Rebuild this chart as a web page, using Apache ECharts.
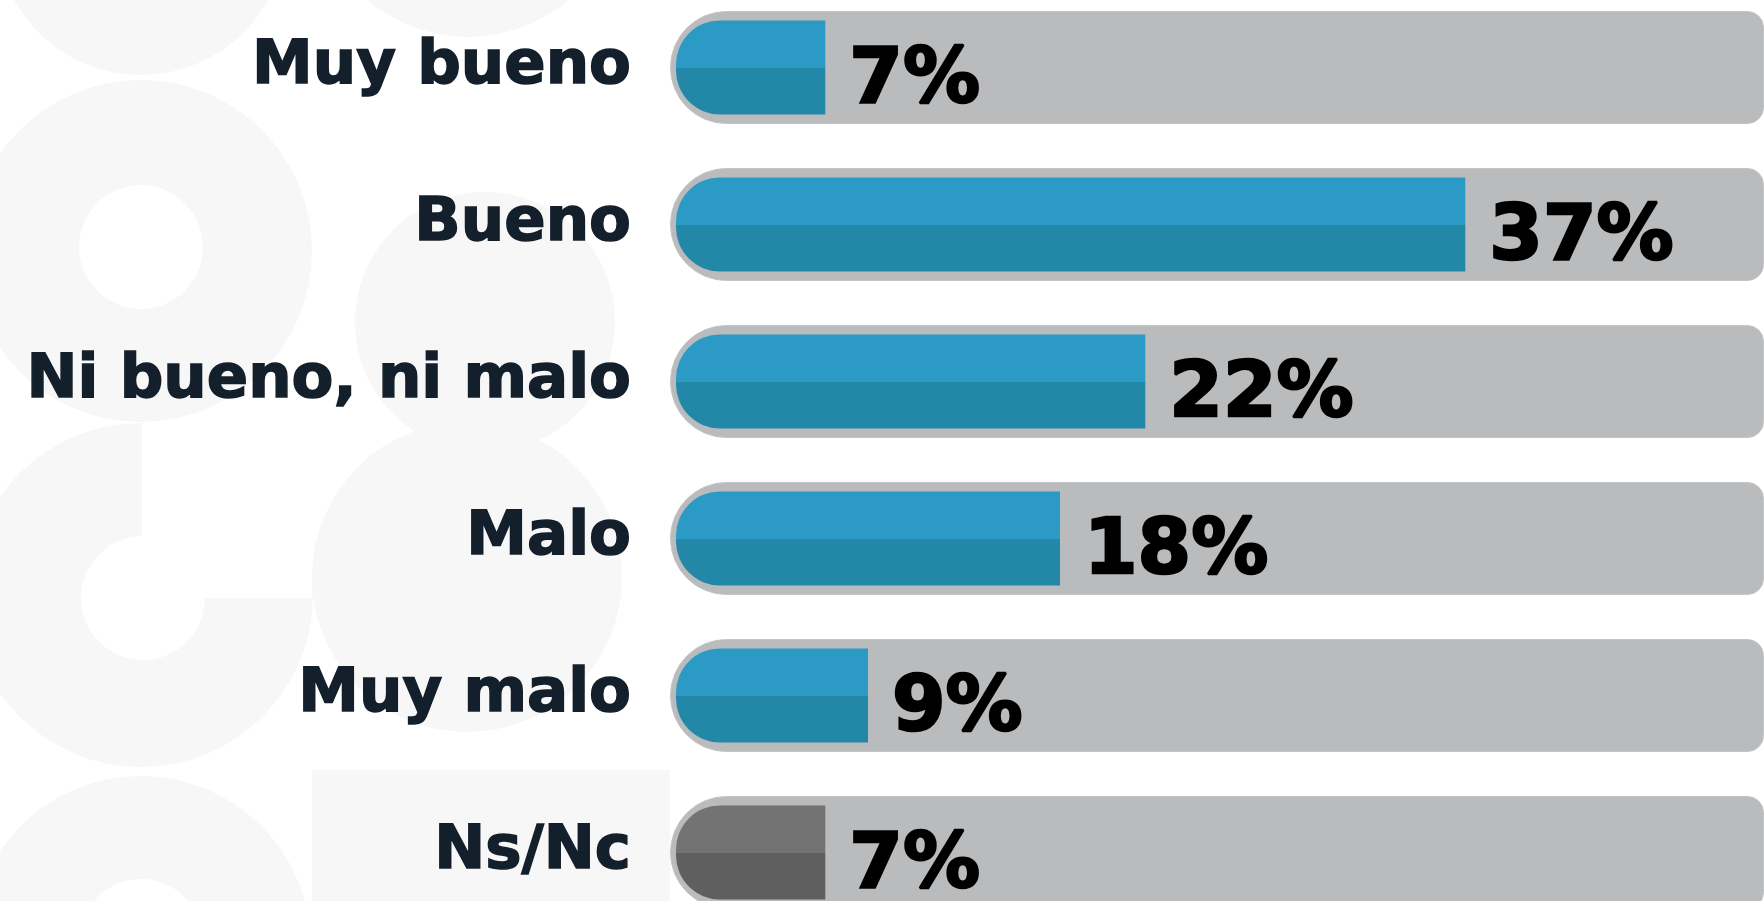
<!DOCTYPE html>
<html>
<head>
<meta charset="utf-8">
<script src="https://cdn.jsdelivr.net/npm/echarts@6/dist/echarts.min.js"></script>
<style>
  html, body { margin: 0; padding: 0; background: #ffffff; }
  #chart { width: 1764px; height: 901px; }
</style>
</head>
<body>
<div id="chart"></div>
<script>
// categorias y porcentajes
const categories = ["Muy bueno", "Bueno", "Ni bueno, ni malo", "Malo", "Muy malo", "Ns/Nc"];
const values = [7, 37, 22, 18, 9, 7];
const valueLabels = ["7%", "37%", "22%", "18%", "9%", "7%"];

const chartDom = document.getElementById("chart");
const myChart = echarts.init(chartDom);

const split = (top, bottom) =>
  new echarts.graphic.LinearGradient(0, 0, 0, 1, [
    { offset: 0, color: top },
    { offset: 0.5, color: top },
    { offset: 0.5, color: bottom },
    { offset: 1, color: bottom },
  ]);

const barData = values.map((v, i) => ({
  value: v,
  itemStyle: {
    color: categories[i] === "Ns/Nc" ? split("#737373", "#5f5f5f") : split("#2b9bc5", "#2388a7"),
  },
}));

// fondo decorativo
const bg = "#f7f7f7";
const circle = (cx, cy, r, fill) => ({ type: "circle", shape: { cx, cy, r }, style: { fill }, silent: true, z: -10 });
const rect = (x, y, width, height, fill) => ({ type: "rect", shape: { x, y, width, height }, style: { fill }, silent: true, z: -10 });

const option = {
  backgroundColor: "#ffffff",
  animation: false,
  graphic: [
    circle(141, -70, 145, bg),
    circle(468, -117, 154, bg),
    circle(141, 251, 171, bg),
    circle(485, 322, 130, bg),
    circle(141, 595, 172, bg),
    circle(467, 577, 155, bg),
    circle(141, 946, 170, bg),
    rect(312, 770, 358, 131, bg),
    circle(141, 247, 62, "#ffffff"),
    rect(142, 422, 170, 176, "#ffffff"),
    circle(143, 598, 62, "#ffffff"),
    circle(141, 941, 62, "#ffffff"),
  ],
  grid: {
    left: 670,
    right: 0,
    top: -11,
    height: 942,
    containLabel: false,
    outerBoundsMode: "none",
  },
  xAxis: [
    { type: "value", min: 0, max: 1, show: false },
    { type: "value", min: -0.28, max: 51, show: false },
  ],
  yAxis: [
    {
      type: "category",
      data: categories,
      inverse: true,
      axisLine: { show: false },
      axisTick: { show: false },
      splitLine: { show: false },
      axisLabel: {
        margin: 39,
        padding: [6, 0, 0, 0],
        fontFamily: "DejaVu Sans",
        fontWeight: "bold",
        fontSize: 61,
        color: "#131f2b",
        textBorderColor: "#131f2b",
        textBorderWidth: 1.5,
      },
    },
    {
      type: "category",
      data: categories,
      inverse: true,
      show: false,
    },
  ],
  series: [
    {
      name: "fondo",
      type: "bar",
      xAxisIndex: 0,
      yAxisIndex: 0,
      barWidth: 113,
      silent: true,
      data: categories.map(() => 1),
      itemStyle: {
        color: "#babbbd",
        borderColor: "#c4c5c7",
        borderWidth: 1,
        borderRadius: [56, 16, 16, 56],
      },
    },
    {
      name: "valor",
      type: "bar",
      xAxisIndex: 1,
      yAxisIndex: 1,
      barWidth: 94,
      data: barData,
      itemStyle: { borderRadius: [44, 0, 0, 44] },
      label: {
        show: true,
        position: "right",
        distance: 24,
        offset: [0, 14],
        formatter: (p) => valueLabels[p.dataIndex],
        fontFamily: "DejaVu Sans",
        fontWeight: "bold",
        fontSize: 77,
        color: "#000000",
        textBorderColor: "#000000",
        textBorderWidth: 2.5,
      },
    },
  ],
};

myChart.setOption(option);
</script>
</body>
</html>
